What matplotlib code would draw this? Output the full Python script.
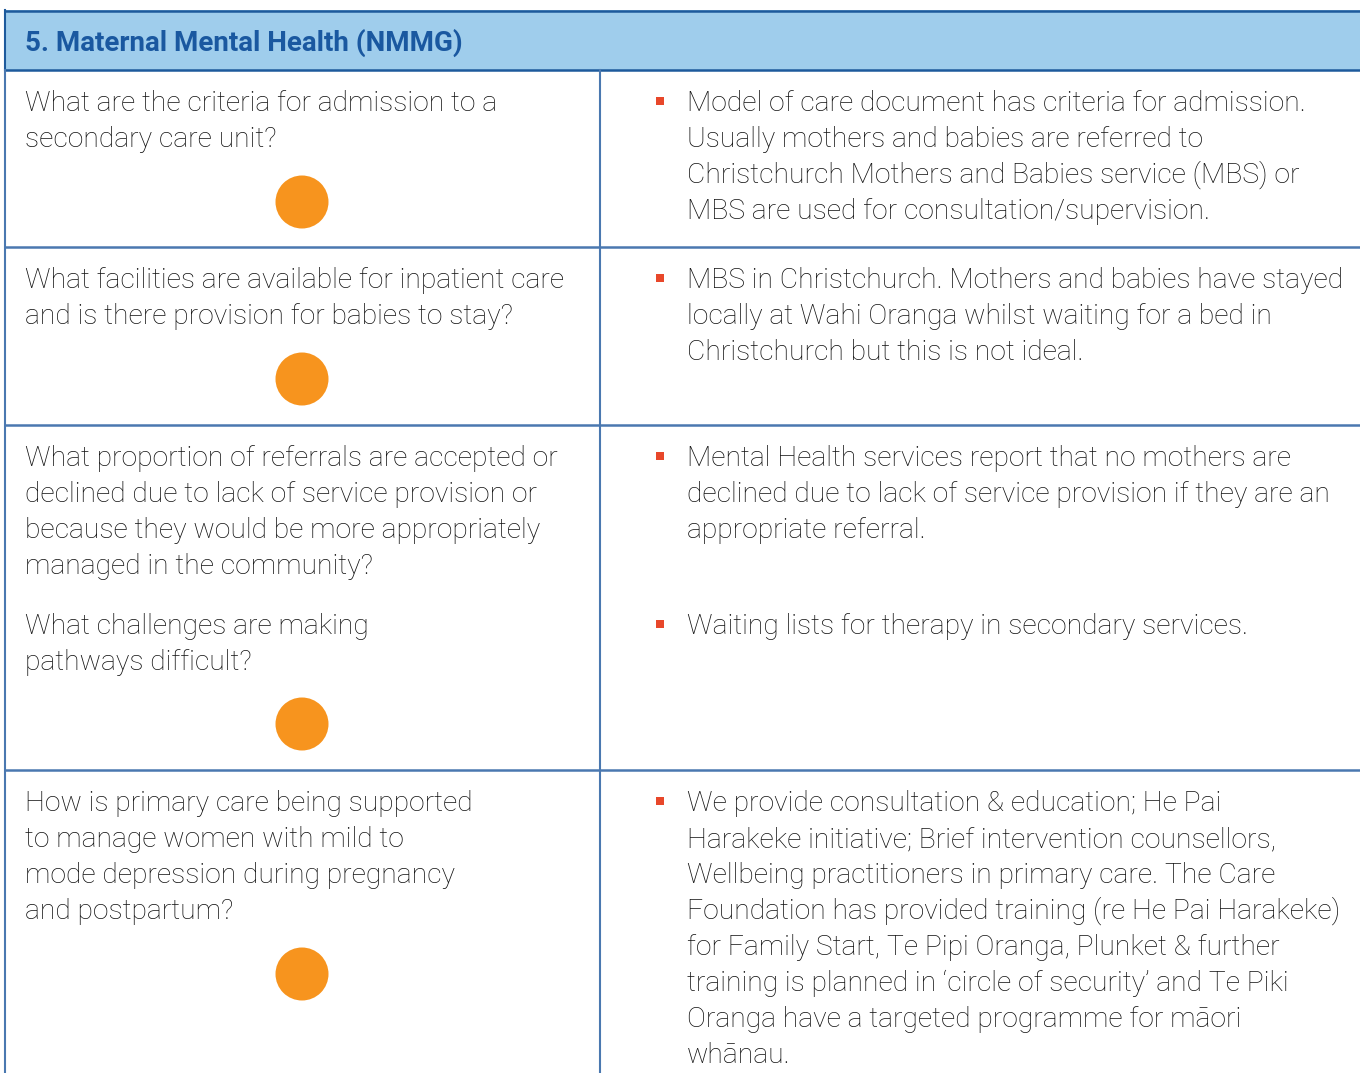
import matplotlib
matplotlib.use('Agg')
import matplotlib.pyplot as plt
from matplotlib.patches import Rectangle, Circle

# table content
title = "5. Maternal Mental Health (NMMG)"

questions = [
    [["What are the criteria for admission to a", "secondary care unit?"]],
    [["What facilities are available for inpatient care", "and is there provision for babies to stay?"]],
    [["What proportion of referrals are accepted or", "declined due to lack of service provision or",
      "because they would be more appropriately", "managed in the community?"],
     ["What challenges are making", "pathways difficult?"]],
    [["How is primary care being supported", "to manage women with mild to",
      "mode depression during pregnancy", "and postpartum?"]],
]

answers = [
    [["Model of care document has criteria for admission.", "Usually mothers and babies are referred to",
      "Christchurch Mothers and Babies service (MBS) or", "MBS are used for consultation/supervision."]],
    [["MBS in Christchurch. Mothers and babies have stayed", "locally at Wahi Oranga whilst waiting for a bed in",
      "Christchurch but this is not ideal."]],
    [["Mental Health services report that no mothers are", "declined due to lack of service provision if they are an",
      "appropriate referral."],
     ["Waiting lists for therapy in secondary services."]],
    [["We provide consultation & education; He Pai", "Harakeke initiative; Brief intervention counsellors,",
      "Wellbeing practitioners in primary care. The Care", "Foundation has provided training (re He Pai Harakeke)",
      "for Family Start, Te Pipi Oranga, Plunket & further", "training is planned in \u2018circle of security\u2019 and Te Piki",
      "Oranga have a targeted programme for m\u0101ori", "wh\u0101nau."]],
]

# layout (pixels)
W, H = 1360, 1073
row_tops = [70, 247, 425, 770]
dot_y = [202, 379, 724, 974]
line_h = 36
para_gap = [0, 0, 168, 0]

fig = plt.figure(figsize=(W / 100, H / 100), dpi=100)
ax = fig.add_axes([0, 0, 1, 1])
ax.set_xlim(0, W)
ax.set_ylim(H, 0)
ax.axis('off')

border = '#4a78b0'
dark = '#1d5a9c'
txt = '#111111'
font = 'Roboto'
fs = 20.3

# header
ax.add_patch(Rectangle((5, 10), W, 60, facecolor='#9fcdec', edgecolor='none'))
ax.plot([5, W], [11, 11], color=dark, lw=1.8)
ax.plot([5, W], [70, 70], color=dark, lw=1.8)
ax.plot([5, 5], [10, 70], color=dark, lw=1.5)
ax.text(25, 51, title, color='#1a58a0', fontsize=20, fontweight='bold',
        family=font, va='baseline', ha='left')

# grid lines
ax.plot([5, 5], [70, H], color=border, lw=1.5)
ax.plot([600, 600], [70, H], color=border, lw=1.5)
for y in row_tops[1:]:
    ax.plot([5, W], [y, y], color=border, lw=1.8)

for i in range(len(questions)):
    y0 = row_tops[i] + 41
    # left column
    y = y0
    for p, para in enumerate(questions[i]):
        if p > 0:
            y = y0 + para_gap[i]
        for line in para:
            ax.text(25, y, line, color=txt, fontsize=fs, family=font,
                    fontweight='light', va='baseline', ha='left')
            y += line_h
    # right column
    y = y0
    for p, para in enumerate(answers[i]):
        if p > 0:
            y = y0 + para_gap[i]
        ax.add_patch(Rectangle((656, y - 14), 8, 8, facecolor='#e8472a', edgecolor='none'))
        for line in para:
            ax.text(687, y, line, color=txt, fontsize=fs, family=font,
                    fontweight='light', va='baseline', ha='left')
            y += line_h
    ax.add_patch(Circle((302, dot_y[i]), 26.5, facecolor='#f7941e', edgecolor='none'))

fig.savefig('out.png', dpi=100)
